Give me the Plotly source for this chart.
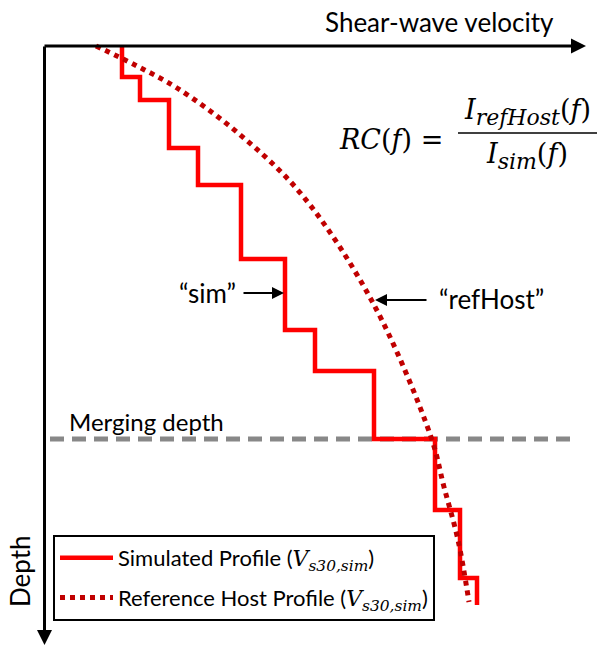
import plotly.graph_objects as go

# ---- data (velocity in arbitrary units, depth in arbitrary units) ----
sim_velocity = [154, 190, 248, 306, 392, 480, 540, 658, 780, 830, 864, 864]
sim_depth = [0, 3.1, 5.4, 10.2, 13.9, 21.3, 28.4, 32.5, 39.3, 46.4, 53.2, 55.9]

ref_velocity = [102, 180, 264, 386, 514, 656, 772, 798, 826, 848]
ref_depth = [0, 1.9, 4.2, 8.7, 14.9, 25.7, 39.1, 44.1, 49.4, 55.6]

merging_depth = 39.3
merge_span = [10, 1052]

X_RANGE = [-90, 1110]
Y_RANGE = [60.0, -4.6]

TXT = "Lato"
MATH = "DejaVu Serif"
BLACK = "#000000"

fig = go.Figure()

fig.add_trace(go.Scatter(
    x=merge_span, y=[merging_depth, merging_depth], mode="lines",
    line=dict(color="#888888", width=5, dash="14px,8px"),
    showlegend=False, hoverinfo="skip"))

fig.add_trace(go.Scatter(
    x=sim_velocity, y=sim_depth, mode="lines",
    line=dict(color="#FF0000", width=4.5, shape="vh"),
    name="Simulated Profile (<span style='font-family:DejaVu Serif'><i>V</i><sub><i>s30,sim</i></sub></span>)",
    legendgroup="a"))

fig.add_trace(go.Scatter(
    x=ref_velocity, y=ref_depth, mode="lines",
    line=dict(color="#C00000", width=5, dash="5px,5px", shape="spline"),
    name="Reference Host Profile (<span style='font-family:DejaVu Serif'><i>V</i><sub><i>s30,sim</i></sub></span>)",
    legendgroup="b"))

ann = []
# axes arrows
ann.append(dict(x=1082, y=0, ax=-4, ay=0, xref="x", yref="y", axref="x", ayref="y",
                text="", showarrow=True, arrowhead=2, arrowwidth=3, arrowsize=1,
                arrowcolor=BLACK))
ann.append(dict(x=-1, y=59.9, ax=-1, ay=-0.1, xref="x", yref="y", axref="x", ayref="y",
                text="", showarrow=True, arrowhead=2, arrowwidth=3, arrowsize=1,
                arrowcolor=BLACK))
# pointer arrows
ann.append(dict(x=478, y=24.7, ax=394, ay=24.7, xref="x", yref="y", axref="x", ayref="y",
                text="", showarrow=True, arrowhead=2, arrowwidth=2, arrowsize=1.2,
                arrowcolor=BLACK))
ann.append(dict(x=660, y=25.4, ax=766, ay=25.4, xref="x", yref="y", axref="x", ayref="y",
                text="", showarrow=True, arrowhead=2, arrowwidth=2, arrowsize=1.2,
                arrowcolor=BLACK))

def txt(x, y, s, size=26, family=TXT, xanchor="left", angle=0):
    return dict(x=x / 600, y=1 - y / 646, xref="paper", yref="paper", text=s,
                showarrow=False, xanchor=xanchor, yanchor="middle", textangle=angle,
                font=dict(family=family, size=size, color=BLACK))

SUB = "<sub><span style='font-size:22px'><i>{}</i></span></sub>"

ann.append(txt(323, 22, "Shear-wave velocity", size=26))
ann.append(txt(20, 571, "Depth", angle=-90, xanchor="center", size=26))
ann.append(txt(67, 421, "Merging depth", size=24))
ann.append(txt(238, 293, "“sim”", xanchor="right", size=26))
ann.append(txt(437, 299, "“refHost”", size=26))
ann.append(txt(337, 139, "<i>RC</i>(<i>f</i>) =", size=27, family=MATH))
ann.append(txt(527, 112, "<i>I</i>" + SUB.format("refHost") + "(<i>f</i>)", size=27, family=MATH, xanchor="center"))
ann.append(txt(527, 156, "<i>I</i>" + SUB.format("sim") + "(<i>f</i>)", size=27, family=MATH, xanchor="center"))

fig.update_layout(
    width=600, height=646,
    margin=dict(l=0, r=0, t=0, b=0),
    paper_bgcolor="white", plot_bgcolor="white",
    xaxis=dict(range=X_RANGE, visible=False, fixedrange=True),
    yaxis=dict(range=Y_RANGE, visible=False, fixedrange=True),
    annotations=ann,
    shapes=[dict(type="line", xref="paper", yref="paper",
                 x0=458 / 600, x1=597 / 600, y0=1 - 133 / 646, y1=1 - 133 / 646,
                 line=dict(color=BLACK, width=1.5))],
    legend=dict(x=53 / 600, y=1 - 535 / 646, xanchor="left", yanchor="top",
                bgcolor="white", bordercolor=BLACK, borderwidth=2,
                font=dict(family=TXT, size=22, color=BLACK),
                traceorder="grouped", tracegroupgap=8, itemwidth=53),
    showlegend=True,
)

fig.write_html("out.html")
